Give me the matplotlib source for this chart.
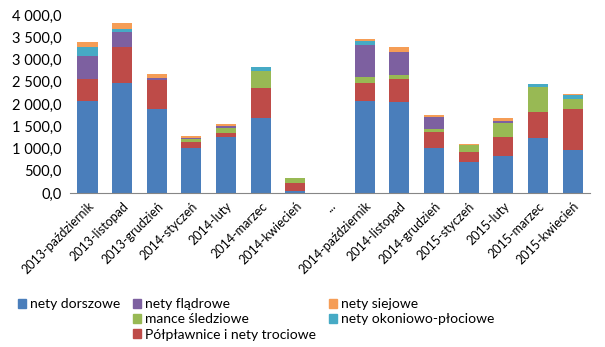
import matplotlib
matplotlib.use("Agg")
import matplotlib.pyplot as plt
import numpy as np
from matplotlib.patches import Patch

plt.rcParams['font.family'] = ['Lato', 'DejaVu Sans']

# categories (miesiace), '...' is an empty gap
cats = ['2013-październik', '2013-listopad', '2013-grudzień', '2014-styczeń',
        '2014-luty', '2014-marzec', '2014-kwiecień', '...',
        '2014-październik', '2014-listopad', '2014-grudzień', '2015-styczeń',
        '2015-luty', '2015-marzec', '2015-kwiecień']

dorszowe = [2070, 2480, 1890, 1000, 1250, 1690, 40, 0, 2070, 2050, 1020, 700, 830, 1240, 970]
polplawnice = [480, 795, 650, 150, 100, 675, 190, 0, 390, 510, 360, 220, 435, 580, 910]
mance = [0, 0, 0, 60, 110, 375, 100, 0, 150, 100, 65, 150, 300, 555, 225]
fladrowe = [525, 350, 40, 30, 50, 0, 0, 0, 710, 515, 250, 0, 60, 0, 0]
okoniowe = [195, 60, 0, 0, 0, 80, 0, 0, 95, 0, 0, 0, 0, 65, 95]
siejowe = [115, 125, 95, 40, 40, 0, 0, 0, 55, 100, 60, 30, 50, 0, 30]

names = ['nety dorszowe', 'Półpławnice i nety trociowe', 'mance śledziowe',
         'nety flądrowe', 'nety okoniowo-płociowe', 'nety siejowe']
colors = ['#4A7EBB', '#BE4B48', '#98B954', '#7D60A0', '#46AAC5', '#F59D56']
series = [dorszowe, polplawnice, mance, fladrowe, okoniowe, siejowe]

fig = plt.figure(figsize=(6.05, 3.47), dpi=100)
ax = fig.add_axes([0.116, 0.444, 0.859, 0.513])

x = np.arange(len(cats))
bottom = np.zeros(len(cats))
for vals, c in zip(series, colors):
    ax.bar(x, vals, 0.58, bottom=bottom, color=c, linewidth=0)
    bottom += np.array(vals)

ax.set_xlim(-0.5, len(cats) - 0.5)
ax.set_ylim(0, 4000)
ax.set_yticks(np.arange(0, 4001, 500))
ax.set_yticklabels([f"{v:,.1f}".replace(',', ' ').replace('.', ',') for v in np.arange(0, 4001, 500)],
                   fontsize=10.5)
ax.set_xticks(x)
ax.set_xticklabels(cats, rotation=45, ha='right', rotation_mode='anchor', fontsize=9)
ax.tick_params(axis='y', length=0, pad=6)
ax.tick_params(axis='x', length=0, pad=5)
for s in ['top', 'right', 'left']:
    ax.spines[s].set_visible(False)
ax.spines['bottom'].set_color('#868686')

# legend arranged like the original (3 columns, gaps filled with blanks)
h = {n: Patch(color=c) for n, c in zip(names, colors)}
blank = Patch(color='none')
handles = [h['nety dorszowe'], blank, blank,
           h['nety flądrowe'], h['mance śledziowe'], h['Półpławnice i nety trociowe'],
           h['nety siejowe'], h['nety okoniowo-płociowe'], blank]
labels = ['nety dorszowe', '', '',
          'nety flądrowe', 'mance śledziowe', 'Półpławnice i nety trociowe',
          'nety siejowe', 'nety okoniowo-płociowe', '']
fig.legend(handles, labels, ncol=3, loc='upper left', bbox_to_anchor=(0.018, 0.16),
           frameon=False, fontsize=10, handlelength=0.6, handleheight=0.6,
           handletextpad=0.25, columnspacing=0.95, labelspacing=0.22, borderpad=0)

fig.savefig('out.png', dpi=100)
